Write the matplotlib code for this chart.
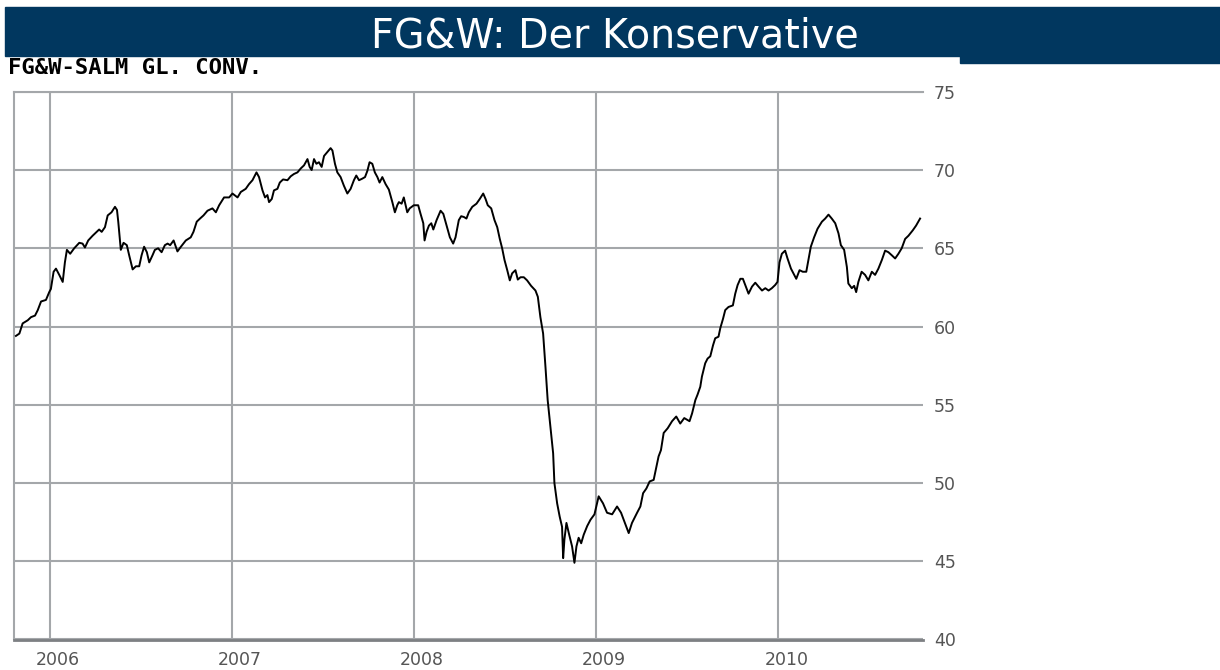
import matplotlib
matplotlib.use("Agg")
import matplotlib.pyplot as plt
from matplotlib.patches import Rectangle
from matplotlib.transforms import ScaledTranslation

# weekly closes (x = decimal year)
dates = [
    2005.813, 2005.832, 2005.850, 2005.878, 2005.896, 2005.918, 2005.933, 2005.951, 2005.978, 2005.996,
    2006.005, 2006.020, 2006.033, 2006.051, 2006.070, 2006.082, 2006.093, 2006.111, 2006.133, 2006.161,
    2006.179, 2006.192, 2006.210, 2006.234, 2006.252, 2006.270, 2006.284, 2006.302, 2006.317, 2006.338,
    2006.357, 2006.368, 2006.375, 2006.389, 2006.404, 2006.422, 2006.435, 2006.454, 2006.472, 2006.490,
    2006.503, 2006.517, 2006.532, 2006.545, 2006.563, 2006.576, 2006.594, 2006.613, 2006.631, 2006.646,
    2006.660, 2006.679, 2006.691, 2006.700, 2006.719, 2006.746, 2006.773, 2006.788, 2006.806, 2006.824,
    2006.843, 2006.865, 2006.892, 2006.911, 2006.929, 2006.956, 2006.984, 2007.002, 2007.030, 2007.048,
    2007.075, 2007.093, 2007.112, 2007.134, 2007.148, 2007.167, 2007.181, 2007.194, 2007.203, 2007.218,
    2007.230, 2007.249, 2007.262, 2007.280, 2007.304, 2007.322, 2007.340, 2007.359, 2007.377, 2007.395,
    2007.414, 2007.426, 2007.437, 2007.450, 2007.463, 2007.477, 2007.492, 2007.505, 2007.523, 2007.541,
    2007.551, 2007.565, 2007.578, 2007.596, 2007.614, 2007.633, 2007.651, 2007.669, 2007.682, 2007.697,
    2007.715, 2007.730, 2007.743, 2007.755, 2007.770, 2007.784, 2007.798, 2007.810, 2007.825, 2007.843,
    2007.861, 2007.880, 2007.894, 2007.907, 2007.916, 2007.931, 2007.943, 2007.953, 2007.962, 2007.975,
    2007.998, 2008.022, 2008.035, 2008.050, 2008.057, 2008.068, 2008.081, 2008.094, 2008.105, 2008.123,
    2008.145, 2008.160, 2008.178, 2008.196, 2008.214, 2008.227, 2008.245, 2008.258, 2008.273, 2008.287,
    2008.300, 2008.319, 2008.342, 2008.360, 2008.379, 2008.392, 2008.404, 2008.423, 2008.441, 2008.456,
    2008.470, 2008.483, 2008.496, 2008.511, 2008.525, 2008.538, 2008.556, 2008.569, 2008.584, 2008.602,
    2008.620, 2008.642, 2008.666, 2008.679, 2008.693, 2008.708, 2008.721, 2008.733, 2008.748, 2008.763,
    2008.770, 2008.785, 2008.799, 2008.812, 2008.818, 2008.825, 2008.836, 2008.849, 2008.867, 2008.880,
    2008.891, 2008.903, 2008.917, 2008.931, 2008.950, 2008.968, 2008.990, 2009.013, 2009.037, 2009.059,
    2009.087, 2009.114, 2009.136, 2009.160, 2009.178, 2009.196, 2009.224, 2009.242, 2009.257, 2009.275,
    2009.293, 2009.315, 2009.330, 2009.342, 2009.355, 2009.370, 2009.392, 2009.416, 2009.439, 2009.461,
    2009.483, 2009.512, 2009.526, 2009.544, 2009.556, 2009.571, 2009.580, 2009.598, 2009.611, 2009.626,
    2009.641, 2009.653, 2009.671, 2009.681, 2009.696, 2009.708, 2009.726, 2009.750, 2009.763, 2009.776,
    2009.791, 2009.805, 2009.818, 2009.836, 2009.855, 2009.873, 2009.891, 2009.910, 2009.928, 2009.946,
    2009.964, 2009.982, 2009.995, 2010.006, 2010.019, 2010.037, 2010.050, 2010.069, 2010.087, 2010.098,
    2010.116, 2010.134, 2010.153, 2010.165, 2010.178, 2010.196, 2010.215, 2010.239, 2010.257, 2010.275,
    2010.293, 2010.312, 2010.330, 2010.343, 2010.361, 2010.376, 2010.384, 2010.403, 2010.416, 2010.427,
    2010.439, 2010.457, 2010.476, 2010.494, 2010.513, 2010.531, 2010.549, 2010.568, 2010.586, 2010.604,
    2010.623, 2010.641, 2010.659, 2010.677, 2010.696, 2010.714, 2010.738, 2010.756, 2010.778,
]
prices = [
    59.4, 59.55, 60.2, 60.4, 60.6, 60.7, 61.05, 61.6, 61.7, 62.2,
    62.4, 63.5, 63.7, 63.3, 62.85, 64.1, 64.9, 64.65, 65.0, 65.35,
    65.3, 65.05, 65.5, 65.8, 66.0, 66.2, 66.05, 66.35, 67.1, 67.3,
    67.65, 67.45, 66.7, 64.9, 65.35, 65.2, 64.55, 63.65, 63.85, 63.85,
    64.55, 65.1, 64.75, 64.1, 64.55, 64.9, 65.0, 64.75, 65.2, 65.3,
    65.2, 65.5, 65.1, 64.8, 65.1, 65.5, 65.7, 66.05, 66.7, 66.9,
    67.1, 67.4, 67.55, 67.3, 67.75, 68.25, 68.25, 68.5, 68.25, 68.6,
    68.8, 69.1, 69.35, 69.85, 69.55, 68.7, 68.25, 68.4, 67.95, 68.15,
    68.7, 68.8, 69.2, 69.4, 69.35, 69.6, 69.75, 69.85, 70.1, 70.3,
    70.7, 70.2, 70.0, 70.7, 70.4, 70.5, 70.2, 70.9, 71.15, 71.4,
    71.25, 70.4, 69.85, 69.55, 69.0, 68.5, 68.8, 69.35, 69.65, 69.35,
    69.45, 69.55, 69.95, 70.5, 70.4, 69.85, 69.55, 69.2, 69.55, 69.1,
    68.75, 67.95, 67.3, 67.75, 67.95, 67.85, 68.25, 67.75, 67.3, 67.55,
    67.75, 67.75, 67.2, 66.6, 65.5, 66.05, 66.45, 66.6, 66.2, 66.8,
    67.4, 67.2, 66.45, 65.7, 65.3, 65.7, 66.8, 67.05, 67.0, 66.9,
    67.3, 67.65, 67.85, 68.15, 68.5, 68.15, 67.75, 67.55, 66.8, 66.35,
    65.6, 65.0, 64.25, 63.6, 62.95, 63.4, 63.6, 63.0, 63.15, 63.15,
    62.95, 62.6, 62.3, 61.9, 60.6, 59.55, 57.4, 55.3, 53.6, 51.9,
    50.0, 48.7, 47.85, 47.2, 45.2, 46.4, 47.45, 46.8, 45.95, 44.9,
    45.95, 46.5, 46.15, 46.7, 47.25, 47.65, 48.0, 49.15, 48.7, 48.1,
    48.0, 48.5, 48.1, 47.35, 46.8, 47.45, 48.1, 48.5, 49.35, 49.65,
    50.1, 50.2, 51.05, 51.7, 52.1, 53.2, 53.5, 53.95, 54.25, 53.8,
    54.15, 53.95, 54.45, 55.3, 55.65, 56.15, 56.8, 57.65, 57.95, 58.1,
    58.8, 59.25, 59.35, 59.9, 60.5, 61.05, 61.25, 61.35, 62.1, 62.65,
    63.05, 63.05, 62.65, 62.1, 62.55, 62.8, 62.55, 62.3, 62.45, 62.3,
    62.45, 62.65, 62.85, 64.1, 64.65, 64.85, 64.35, 63.7, 63.3, 63.05,
    63.6, 63.5, 63.5, 64.25, 65.1, 65.7, 66.25, 66.7, 66.9, 67.15,
    66.9, 66.6, 65.95, 65.2, 64.9, 63.8, 62.75, 62.45, 62.6, 62.2,
    62.85, 63.5, 63.3, 62.95, 63.5, 63.3, 63.7, 64.25, 64.85, 64.75,
    64.55, 64.35, 64.65, 65.0, 65.6, 65.8, 66.15, 66.45, 66.9,
]

year_ticks = [2006, 2007, 2008, 2009, 2010]
price_ticks = [40, 45, 50, 55, 60, 65, 70, 75]

title = "FG&W: Der Konservative"
subtitle = "FG&W-SALM GL. CONV."

W, H = 1220, 670
fig = plt.figure(figsize=(W / 100, H / 100), dpi=100)
fig.patch.set_facecolor("white")

navy = "#01375f"
grid_c = "#a4a7aa"
label_c = "#555555"

# title banner
fig.patches.append(Rectangle((5 / W, 1 - 56 / H), 1215 / W, 49 / H,
                             transform=fig.transFigure, color=navy, zorder=0))
fig.patches.append(Rectangle((960 / W, 1 - 63 / H), 260 / W, 8 / H,
                             transform=fig.transFigure, color=navy, zorder=0))
fig.text(615 / W, 1 - 48 / H, title, color="white", fontsize=28.5,
         ha="center", va="baseline", family="DejaVu Sans")
fig.text(8 / W, 1 - 68 / H, subtitle, color="black", fontsize=16,
         fontweight="bold", family="DejaVu Sans Mono", ha="left", va="center")

left, right, top, bottom = 14, 923, 91.8, 639.5
ax = fig.add_axes([left / W, 1 - bottom / H, (right - left) / W, (bottom - top) / H])
ax.plot(dates, prices, color="black", lw=1.4, zorder=3)

ax.set_xlim(2005.8025, 2010.794)
ax.set_ylim(40, 75)
ax.set_xticks(year_ticks)
ax.set_xticklabels([str(y) for y in year_ticks])
ax.set_yticks(price_ticks)
ax.grid(True, color=grid_c, lw=1.5)
ax.set_axisbelow(True)

ax.yaxis.tick_right()
ax.tick_params(axis="y", length=0, pad=8, labelsize=12.5, labelcolor=label_c)
ax.tick_params(axis="x", length=0, pad=8, labelsize=12.5, labelcolor=label_c)
shift = ScaledTranslation(8 / 100, 0, fig.dpi_scale_trans)
for lab in ax.get_xticklabels():
    lab.set_transform(lab.get_transform() + shift)

ax.spines["right"].set_visible(False)
ax.spines["left"].set_color(grid_c)
ax.spines["left"].set_linewidth(1.5)
ax.spines["top"].set_color(grid_c)
ax.spines["top"].set_linewidth(1.5)
ax.spines["bottom"].set_color("#7d8083")
ax.spines["bottom"].set_linewidth(2)

fig.savefig("out.png", dpi=100)
